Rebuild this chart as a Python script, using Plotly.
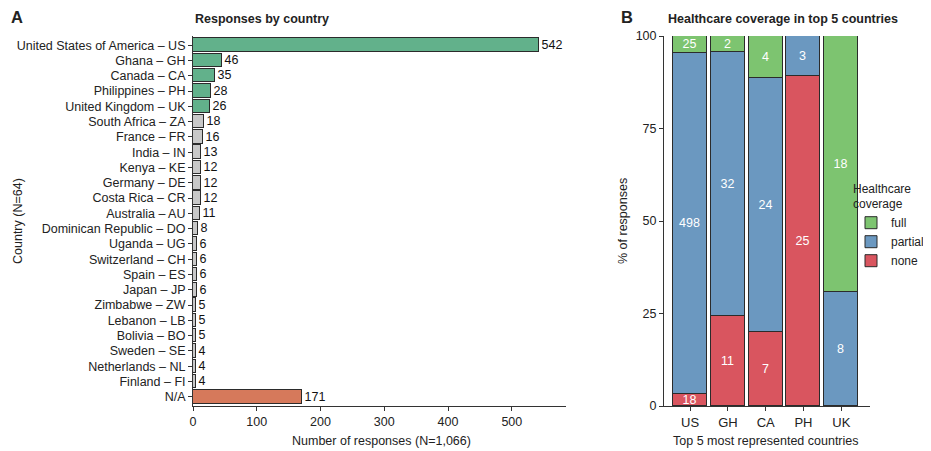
import plotly.graph_objects as go

# ---------------- data ----------------
countries = [
    "United States of America – US", "Ghana – GH", "Canada – CA", "Philippines – PH",
    "United Kingdom – UK", "South Africa – ZA", "France – FR", "India – IN", "Kenya – KE",
    "Germany – DE", "Costa Rica – CR", "Australia – AU", "Dominican Republic – DO",
    "Uganda – UG", "Switzerland – CH", "Spain – ES", "Japan – JP", "Zimbabwe – ZW",
    "Lebanon – LB", "Bolivia – BO", "Sweden – SE", "Netherlands – NL", "Finland – FI", "N/A",
]
responses = [542, 46, 35, 28, 26, 18, 16, 13, 12, 12, 12, 11, 8, 6, 6, 6, 6, 5, 5, 5, 4, 4, 4, 171]
group = ["top"] * 5 + ["other"] * 18 + ["na"]

top5 = ["US", "GH", "CA", "PH", "UK"]
cov_none = [18, 11, 7, 25, 0]
cov_partial = [498, 32, 24, 3, 8]
cov_full = [25, 2, 4, 0, 18]

# ---------------- styling ----------------
FONT = "Liberation Sans, Arial, sans-serif"
FS = 12.5
OFF = 8                      # page body margin offset
W, H = 931 - OFF, 451 - OFF  # figure size so the page fits the window
group_colors = {"top": "#62B18B", "other": "#C8C8C8", "na": "#D6795B"}
c_full, c_partial, c_none = "#7DC470", "#6B98C0", "#D9555F"
edge = "#2b2b2b"

def px_x(p):
    return (p - OFF) / W

def px_y(p):
    return 1 - (p - OFF) / H

fig = go.Figure()

# Panel A
fig.add_trace(go.Bar(
    x=responses, y=countries, orientation="h",
    marker=dict(color=[group_colors[g] for g in group], line=dict(color=edge, width=1)),
    width=0.88,
    text=[str(v) for v in responses], textposition="outside", constraintext="none",
    textfont=dict(size=FS, color="#111", family=FONT), cliponaxis=False,
    showlegend=False, xaxis="x", yaxis="y",
))

# Panel B (percent of each country's total)
totals = [a + b + c for a, b, c in zip(cov_none, cov_partial, cov_full)]

def pct(vals):
    return [100.0 * v / t for v, t in zip(vals, totals)]

def lab(vals):
    return [str(v) if v > 0 else "" for v in vals]

for name, vals, col in [("none", cov_none, c_none), ("partial", cov_partial, c_partial), ("full", cov_full, c_full)]:
    fig.add_trace(go.Bar(
        x=top5, y=pct(vals), name=name, marker=dict(color=col, line=dict(color=edge, width=1)),
        width=0.9, text=lab(vals), textposition="inside", insidetextanchor="middle",
        constraintext="none", textangle=0,
        textfont=dict(size=FS, color="white", family=FONT),
        xaxis="x2", yaxis="y2",
    ))

axis_common = dict(showline=True, linecolor="#333", linewidth=1, ticks="outside", ticklen=4,
                   tickcolor="#333", showgrid=False, zeroline=False, automargin=False,
                   tickfont=dict(size=FS, color="#222", family=FONT))

yA_top, yA_bot = 36, 406
fig.update_layout(
    template="none",
    width=W, height=H, margin=dict(l=0, r=0, t=0, b=0, autoexpand=False),
    plot_bgcolor="white", paper_bgcolor="white",
    font=dict(family=FONT, color="#222"),
    barmode="stack",
    xaxis=dict(domain=[px_x(193), px_x(566)], range=[0, 585], tickvals=[0, 100, 200, 300, 400, 500],
               anchor="y", **axis_common),
    yaxis=dict(domain=[px_y(yA_bot), px_y(yA_top)], range=[23.6, -0.6], type="category",
               categoryorder="array", categoryarray=countries, anchor="x", **axis_common),
    xaxis2=dict(domain=[px_x(664), px_x(870)], range=[-0.69, 4.76], anchor="y2",
                **{**axis_common, "tickfont": dict(size=13, color="#222", family=FONT)}),
    yaxis2=dict(domain=[px_y(yA_bot), px_y(yA_top)], range=[0, 100], tickvals=[0, 25, 50, 75, 100],
                anchor="x2", **axis_common),
    legend=dict(x=px_x(851), y=px_y(177), xanchor="left", yanchor="top", traceorder="reversed",
                title=dict(text="Healthcare<br>coverage", font=dict(size=12, family=FONT, color="#222")),
                font=dict(size=12, family=FONT, color="#222"), bgcolor="rgba(0,0,0,0)",
                borderwidth=0, itemclick=False),
    bargap=0,
)

annots = [
    dict(text="<b>A</b>", x=px_x(9), y=px_y(17), xanchor="left", yanchor="middle", font=dict(size=16.5)),
    dict(text="<b>Responses by country</b>", x=px_x(193), y=px_y(19), xanchor="left", yanchor="middle", font=dict(size=FS)),
    dict(text="<b>B</b>", x=px_x(619), y=px_y(17), xanchor="left", yanchor="middle", font=dict(size=16.5)),
    dict(text="<b>Healthcare coverage in top 5 countries</b>", x=px_x(666), y=px_y(19), xanchor="left", yanchor="middle", font=dict(size=FS)),
    dict(text="Country (N=64)", x=px_x(18), y=px_y(221), xanchor="center", yanchor="middle", textangle=-90, font=dict(size=FS)),
    dict(text="Number of responses (N=1,066)", x=px_x(381), y=px_y(441), xanchor="center", yanchor="middle", font=dict(size=FS)),
    dict(text="% of responses", x=px_x(623), y=px_y(221), xanchor="center", yanchor="middle", textangle=-90, font=dict(size=FS)),
    dict(text="Top 5 most represented countries", x=px_x(766), y=px_y(441), xanchor="center", yanchor="middle", font=dict(size=FS)),
]
for a in annots:
    a.update(xref="paper", yref="paper", showarrow=False)
    a["font"] = dict(family=FONT, color="#222", **a["font"])
fig.update_layout(annotations=annots)

fig.write_html("out.html")
